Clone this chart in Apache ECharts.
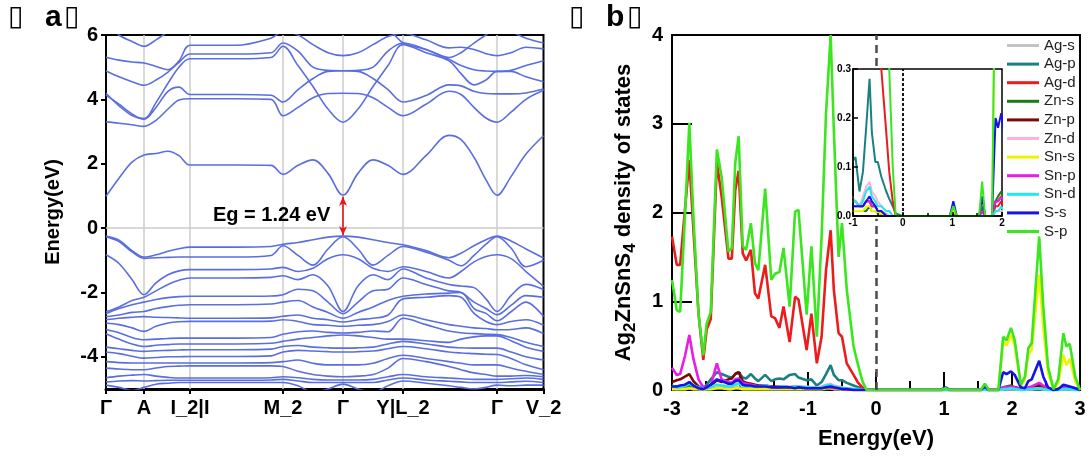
<!DOCTYPE html>
<html>
<head>
<meta charset="utf-8">
<title>Ag2ZnSnS4 band structure and DOS</title>
<script src="https://cdn.jsdelivr.net/npm/echarts@6/dist/echarts.min.js"></script>
<style>
  html, body { margin: 0; padding: 0; background: #fff; }
  #chart { width: 1091px; height: 461px; }
</style>
</head>
<body>
<div id="chart"></div>
<script>
// ---------- panel a : band structure ----------
// k path position (arbitrary length units along the path)
const kGrid = [0, 13, 26, 38, 50, 62, 73, 84, 130, 165, 177, 192, 207, 222, 237, 252, 267, 282, 297, 320, 343, 355, 368, 380, 391, 405, 420, 437.5];
const kSym = [0, 38, 84, 177, 237, 297, 391, 437.5];
const kLabels = ['Γ', 'A', 'I_2|I', 'M_2', 'Γ', 'Y|L_2', 'Γ', 'V_2'];
const eTicks = [-4, -2, 0, 2, 4, 6];

// conduction bands
const cb1 = [0.99, 1.55, 2.05, 2.27, 2.32, 2.39, 2.25, 1.96, 1.96, 1.95, 1.67, 1.95, 2.12, 1.70, 1.02, 1.70, 2.12, 1.95, 1.67, 2.25, 2.88, 2.75, 2.20, 1.50, 1.02, 1.60, 2.30, 2.87];
const cbA = [3.30, 3.26, 3.21, 3.16, 3.35, 3.70, 3.98, 4.02, 4.02, 4.00, 3.49, 3.75, 4.05, 4.18, 4.19, 4.18, 4.05, 3.75, 3.49, 3.85, 4.25, 4.15, 3.75, 3.42, 3.29, 3.60, 4.00, 4.28];
const cbB = [4.13, 3.85, 3.55, 3.38, 3.75, 4.25, 4.38, 4.15, 4.15, 4.13, 3.92, 4.30, 4.65, 4.87, 4.89, 4.87, 4.65, 4.30, 3.92, 4.12, 4.45, 4.42, 4.25, 4.18, 4.17, 4.17, 4.20, 4.32];
const cbC = [4.19, 3.80, 3.50, 3.40, 3.90, 4.50, 5.00, 5.26, 5.26, 5.30, 5.65, 5.05, 4.40, 3.70, 3.29, 3.70, 4.40, 5.05, 5.70, 5.45, 5.20, 4.80, 4.45, 4.60, 4.87, 4.87, 4.70, 4.55];
const cbD = [4.88, 4.70, 4.55, 4.44, 4.60, 4.85, 5.15, 5.41, 5.41, 5.45, 5.75, 5.50, 5.00, 4.90, 4.89, 4.90, 5.00, 5.50, 5.75, 5.55, 5.25, 5.05, 4.92, 4.88, 4.87, 4.90, 5.05, 5.20];
const cbE = [5.31, 5.22, 5.16, 5.13, 5.02, 4.92, 5.20, 5.68, 5.68, 5.90, 6.10, 6.00, 5.70, 5.45, 5.36, 5.45, 5.70, 5.95, 6.05, 5.85, 5.60, 5.62, 5.55, 5.42, 5.36, 5.45, 5.62, 5.57];
const cbF = [6.40, 6.00, 5.80, 5.65, 5.85, 6.10, 6.30, 6.40, 6.40, 6.40, 6.50, 6.60, 6.40, 6.20, 6.10, 6.20, 6.40, 6.20, 5.76, 5.55, 5.30, 5.45, 5.75, 6.00, 6.20, 6.10, 5.90, 5.75];

// valence bands
const vb1 = [-0.25, -0.38, -0.70, -0.90, -0.83, -0.72, -0.64, -0.59, -0.59, -0.57, -0.50, -0.45, -0.36, -0.28, -0.25, -0.28, -0.36, -0.45, -0.52, -0.70, -0.92, -0.78, -0.55, -0.36, -0.25, -0.40, -0.65, -0.93];
const vb2 = [-0.27, -0.42, -0.74, -0.94, -0.92, -0.91, -0.90, -0.90, -0.90, -0.85, -0.55, -0.85, -1.15, -0.65, -0.27, -0.65, -1.15, -0.85, -0.57, -0.75, -1.00, -1.17, -0.85, -0.50, -0.27, -0.62, -1.20, -1.00];
const vb3 = [-0.83, -1.10, -1.60, -2.07, -1.70, -1.45, -1.33, -1.29, -1.29, -1.27, -1.22, -1.35, -1.25, -0.95, -0.83, -0.95, -1.25, -1.35, -1.20, -1.35, -1.55, -1.35, -1.05, -0.88, -0.83, -0.95, -1.35, -1.81];
const vb4 = [-2.60, -2.45, -2.25, -2.15, -1.95, -1.75, -1.62, -1.55, -1.55, -1.53, -1.48, -1.60, -1.45, -1.80, -2.59, -1.80, -1.45, -1.60, -1.27, -1.55, -1.75, -1.80, -1.85, -2.20, -2.59, -2.10, -1.75, -1.91];
const vb5 = [-2.66, -2.50, -2.38, -2.30, -2.22, -2.16, -2.13, -2.12, -2.12, -2.11, -2.07, -1.90, -1.95, -2.30, -2.66, -2.30, -1.95, -1.90, -1.55, -1.75, -1.95, -2.00, -2.30, -2.50, -2.69, -2.40, -2.10, -2.15];
const vb6 = [-2.75, -2.70, -2.62, -2.59, -2.50, -2.44, -2.40, -2.38, -2.38, -2.36, -2.30, -2.25, -2.45, -2.62, -2.80, -2.62, -2.45, -2.25, -2.12, -2.05, -2.02, -2.00, -2.50, -2.65, -2.88, -2.60, -2.30, -2.75];
const vb7 = [-2.85, -2.80, -2.77, -2.75, -2.77, -2.78, -2.79, -2.80, -2.80, -2.79, -2.74, -2.70, -2.80, -2.85, -2.92, -2.85, -2.80, -2.70, -2.20, -2.15, -2.10, -2.15, -2.65, -2.90, -3.00, -2.90, -2.85, -3.02];
const vb8 = [-2.95, -3.00, -3.10, -3.21, -3.05, -2.95, -2.91, -2.90, -2.90, -2.89, -2.85, -2.90, -3.00, -3.02, -3.05, -3.02, -3.00, -2.90, -2.70, -2.85, -3.00, -3.05, -3.10, -3.12, -3.16, -3.15, -3.10, -3.28];
const vb9 = [-3.15, -3.25, -3.40, -3.47, -3.45, -3.43, -3.42, -3.42, -3.42, -3.40, -3.30, -3.22, -3.20, -3.24, -3.26, -3.24, -3.20, -3.22, -2.80, -3.00, -3.20, -3.25, -3.28, -3.30, -3.31, -3.40, -3.55, -3.68];
const vb10 = [-3.28, -3.45, -3.60, -3.68, -3.64, -3.62, -3.60, -3.60, -3.60, -3.58, -3.52, -3.45, -3.40, -3.35, -3.32, -3.35, -3.40, -3.45, -3.45, -3.50, -3.55, -3.45, -3.38, -3.35, -3.35, -3.50, -3.70, -3.83];
const vb11 = [-3.70, -3.75, -3.80, -3.83, -3.81, -3.80, -3.79, -3.78, -3.78, -3.76, -3.68, -3.65, -3.70, -3.72, -3.73, -3.72, -3.70, -3.60, -3.52, -3.60, -3.70, -3.72, -3.73, -3.73, -3.73, -3.85, -4.00, -4.10];
const vb12 = [-3.85, -3.90, -3.98, -4.04, -4.02, -4.00, -4.00, -3.99, -3.99, -3.97, -3.85, -3.80, -3.82, -3.84, -3.85, -3.84, -3.82, -3.75, -3.68, -3.75, -3.85, -3.88, -3.90, -3.92, -3.93, -4.05, -4.25, -4.40];
const vb13 = [-4.15, -4.18, -4.19, -4.19, -4.19, -4.19, -4.19, -4.19, -4.19, -4.18, -4.15, -4.10, -4.20, -4.25, -4.25, -4.25, -4.20, -4.05, -3.95, -4.05, -4.15, -4.20, -4.25, -4.25, -4.25, -4.35, -4.45, -4.55];
const vb14 = [-4.35, -4.38, -4.40, -4.40, -4.35, -4.30, -4.29, -4.28, -4.28, -4.28, -4.30, -4.45, -4.55, -4.60, -4.62, -4.60, -4.55, -4.35, -4.05, -4.15, -4.30, -4.40, -4.50, -4.55, -4.60, -4.60, -4.58, -4.62];
const vb15 = [-4.65, -4.60, -4.57, -4.55, -4.60, -4.64, -4.66, -4.66, -4.66, -4.65, -4.62, -4.65, -4.70, -4.72, -4.72, -4.72, -4.70, -4.62, -4.55, -4.62, -4.66, -4.68, -4.70, -4.70, -4.70, -4.68, -4.66, -4.70];
const vb16 = [-4.78, -4.75, -4.74, -4.75, -4.74, -4.73, -4.73, -4.73, -4.73, -4.72, -4.70, -4.75, -4.80, -4.80, -4.80, -4.80, -4.80, -4.72, -4.66, -4.72, -4.76, -4.78, -4.80, -4.80, -4.80, -4.78, -4.76, -4.80];
const vb17 = [-4.88, -4.95, -5.05, -4.95, -4.85, -4.82, -4.80, -4.80, -4.80, -4.80, -4.80, -4.90, -5.10, -5.00, -4.85, -5.00, -5.10, -4.90, -4.75, -4.82, -4.90, -4.95, -5.00, -4.95, -4.88, -4.90, -4.88, -4.88];

const bands = [cb1, cbA, cbB, cbC, cbD, cbE, cbF,
  vb1, vb2, vb3, vb4, vb5, vb6, vb7, vb8, vb9, vb10, vb11, vb12, vb13, vb14, vb15, vb16, vb17];
const gapText = 'Eg = 1.24 eV';

// ---------- panel b : projected density of states ----------
const eDos = [-3.00, -2.93, -2.88, -2.81, -2.745, -2.685, -2.61, -2.54, -2.49, -2.43,
  -2.34, -2.27, -2.17, -2.12, -2.07, -2.02, -1.96, -1.91, -1.84, -1.78,
  -1.73, -1.63, -1.54, -1.485, -1.42, -1.36, -1.27, -1.19, -1.14, -1.02,
  -0.95, -0.87, -0.80, -0.735, -0.667, -0.62, -0.55, -0.50, -0.43, -0.33,
  -0.27, -0.20, -0.14, 0.00, 0.50, 0.95, 1.02, 1.09, 1.54, 1.60,
  1.66, 1.80, 1.87, 1.92, 1.985, 2.04, 2.13, 2.19, 2.24, 2.29,
  2.40, 2.46, 2.53, 2.61, 2.68, 2.755, 2.80, 2.85, 2.93, 3.00];

const agS = [0.03, 0.02, 0.02, 0.03, 0.04, 0.03, 0.02, 0.01, 0.01, 0.02,
  0.03, 0.03, 0.02, 0.02, 0.03, 0.03, 0.02, 0.02, 0.02, 0.02,
  0.02, 0.02, 0.02, 0.02, 0.02, 0.02, 0.02, 0.02, 0.02, 0.04,
  0.03, 0.02, 0.02, 0.03, 0.03, 0.02, 0.02, 0.01, 0.01, 0.005,
  0, 0, 0, 0, 0, 0, 0, 0, 0, 0,
  0, 0, 0.01, 0.01, 0.01, 0.01, 0, 0, 0.01, 0.01,
  0.01, 0.01, 0, 0, 0, 0.01, 0.01, 0.01, 0, 0];
const agP = [0.04, 0.04, 0.03, 0.04, 0.05, 0.04, 0.03, 0.02, 0.06, 0.12,
  0.20, 0.18, 0.15, 0.14, 0.18, 0.20, 0.14, 0.13, 0.18, 0.13,
  0.10, 0.17, 0.10, 0.12, 0.13, 0.12, 0.17, 0.18, 0.14, 0.11,
  0.12, 0.05, 0.09, 0.18, 0.28, 0.17, 0.11, 0.11, 0.08, 0.05,
  0.035, 0.02, 0.005, 0, 0, 0, 0, 0, 0, 0,
  0, 0, 0.01, 0.01, 0.01, 0.01, 0, 0, 0.01, 0.01,
  0.02, 0.01, 0, 0, 0, 0.01, 0.01, 0.01, 0, 0];
const agD = [1.73, 1.41, 1.41, 2.03, 2.59, 1.80, 0.86, 0.34, 0.68, 0.80,
  2.56, 2.18, 1.48, 1.48, 2.25, 2.47, 1.54, 1.46, 1.58, 1.09,
  1.03, 1.41, 0.83, 0.81, 0.70, 0.94, 0.54, 1.05, 1.02, 0.45,
  0.86, 0.30, 0.60, 1.35, 1.80, 1.13, 0.64, 0.60, 0.30, 0.17,
  0.09, 0.03, 0, 0, 0, 0, 0, 0, 0, 0.01,
  0, 0, 0.02, 0.02, 0.03, 0.02, 0, 0.01, 0.02, 0.03,
  0.07, 0.04, 0.01, 0, 0.01, 0.03, 0.02, 0.02, 0.01, 0];
const znS = [0.01, 0.01, 0.01, 0.01, 0.02, 0.01, 0.01, 0.005, 0.01, 0.01,
  0.02, 0.02, 0.01, 0.01, 0.02, 0.02, 0.01, 0.01, 0.01, 0.01,
  0.01, 0.01, 0.01, 0.01, 0.01, 0.01, 0.01, 0.01, 0.01, 0.01,
  0.01, 0.01, 0.01, 0.01, 0.02, 0.01, 0.01, 0.005, 0.005, 0,
  0, 0, 0, 0, 0, 0, 0.02, 0, 0, 0.02,
  0, 0, 0.03, 0.04, 0.05, 0.03, 0.01, 0.01, 0.02, 0.02,
  0.03, 0.02, 0.01, 0, 0.01, 0.02, 0.02, 0.02, 0.01, 0];
const znP = [0.09, 0.11, 0.12, 0.15, 0.18, 0.10, 0.04, 0.02, 0.03, 0.05,
  0.11, 0.09, 0.12, 0.13, 0.18, 0.20, 0.10, 0.08, 0.07, 0.06,
  0.05, 0.05, 0.04, 0.04, 0.04, 0.04, 0.03, 0.04, 0.03, 0.03,
  0.03, 0.02, 0.02, 0.03, 0.03, 0.02, 0.02, 0.01, 0.01, 0,
  0, 0, 0, 0, 0, 0, 0.005, 0, 0, 0.01,
  0, 0, 0.03, 0.03, 0.04, 0.03, 0.01, 0.01, 0.02, 0.03,
  0.05, 0.03, 0.02, 0, 0.01, 0.03, 0.03, 0.02, 0.01, 0];
const znD = [0.04, 0.03, 0.03, 0.05, 0.08, 0.05, 0.02, 0.01, 0.02, 0.03,
  0.06, 0.05, 0.04, 0.04, 0.06, 0.08, 0.05, 0.04, 0.05, 0.04,
  0.03, 0.04, 0.03, 0.03, 0.03, 0.04, 0.03, 0.04, 0.04, 0.03,
  0.03, 0.02, 0.04, 0.06, 0.07, 0.05, 0.04, 0.03, 0.02, 0.01,
  0.01, 0, 0, 0, 0, 0, 0, 0, 0, 0,
  0, 0, 0.01, 0.01, 0.01, 0.01, 0, 0, 0.01, 0.01,
  0.02, 0.01, 0, 0, 0, 0.01, 0.01, 0.01, 0, 0];
const snS = [0.01, 0.01, 0.01, 0.01, 0.02, 0.01, 0.01, 0.005, 0.01, 0.01,
  0.02, 0.02, 0.01, 0.01, 0.02, 0.02, 0.01, 0.01, 0.01, 0.01,
  0.01, 0.01, 0.01, 0.01, 0.01, 0.01, 0.01, 0.01, 0.01, 0.01,
  0.01, 0.01, 0.01, 0.02, 0.02, 0.01, 0.01, 0.005, 0.005, 0,
  0, 0, 0, 0, 0, 0, 0.01, 0, 0, 0.04,
  0, 0, 0.55, 0.50, 0.62, 0.50, 0.05, 0.12, 0.40, 0.45,
  1.30, 0.70, 0.20, 0, 0.08, 0.40, 0.28, 0.35, 0.10, 0];
const snP = [0.25, 0.17, 0.18, 0.38, 0.62, 0.35, 0.12, 0.03, 0.04, 0.05,
  0.30, 0.12, 0.09, 0.08, 0.12, 0.13, 0.08, 0.07, 0.06, 0.05,
  0.04, 0.05, 0.03, 0.03, 0.03, 0.04, 0.03, 0.03, 0.03, 0.02,
  0.02, 0.02, 0.02, 0.03, 0.03, 0.02, 0.02, 0.01, 0.01, 0,
  0, 0, 0, 0, 0, 0, 0, 0, 0, 0.01,
  0, 0, 0.03, 0.03, 0.04, 0.03, 0.01, 0.01, 0.03, 0.04,
  0.08, 0.05, 0.02, 0, 0.01, 0.04, 0.03, 0.03, 0.02, 0];
const snD = [0.05, 0.03, 0.03, 0.05, 0.07, 0.05, 0.03, 0.02, 0.02, 0.03,
  0.06, 0.05, 0.04, 0.04, 0.06, 0.07, 0.05, 0.04, 0.05, 0.04,
  0.04, 0.05, 0.03, 0.03, 0.04, 0.04, 0.03, 0.04, 0.04, 0.03,
  0.03, 0.02, 0.03, 0.05, 0.06, 0.04, 0.03, 0.02, 0.02, 0.01,
  0.01, 0, 0, 0, 0, 0, 0, 0, 0, 0,
  0, 0, 0.01, 0.01, 0.02, 0.01, 0, 0, 0.01, 0.01,
  0.02, 0.01, 0, 0, 0, 0.01, 0.01, 0.01, 0, 0];
const sS = [0.04, 0.04, 0.05, 0.06, 0.09, 0.05, 0.02, 0.01, 0.03, 0.06,
  0.12, 0.10, 0.07, 0.07, 0.10, 0.11, 0.06, 0.05, 0.05, 0.04,
  0.04, 0.04, 0.03, 0.03, 0.03, 0.03, 0.03, 0.02, 0.03, 0.02,
  0.02, 0.02, 0.02, 0.03, 0.04, 0.03, 0.02, 0.01, 0.01, 0,
  0, 0, 0, 0, 0, 0, 0.03, 0, 0, 0.04,
  0, 0, 0.20, 0.18, 0.21, 0.17, 0.03, 0.02, 0.10, 0.12,
  0.33, 0.15, 0.03, 0, 0.01, 0.06, 0.05, 0.04, 0.02, 0];
const sP = [1.24, 0.90, 0.88, 1.95, 3.01, 1.95, 0.86, 0.39, 0.75, 0.88,
  2.71, 2.40, 1.56, 1.60, 2.56, 2.86, 1.62, 1.58, 1.88, 1.43,
  1.35, 2.27, 1.24, 1.31, 1.33, 1.60, 0.94, 2.01, 2.03, 0.85,
  1.62, 0.60, 1.73, 3.12, 4.00, 2.93, 1.50, 1.88, 1.13, 0.49,
  0.30, 0.10, 0, 0, 0, 0, 0.02, 0, 0, 0.07,
  0, 0, 0.60, 0.56, 0.70, 0.56, 0.06, 0.15, 0.47, 0.53,
  1.73, 0.94, 0.26, 0.01, 0.12, 0.64, 0.49, 0.52, 0.15, 0];

const dosNames = ['Ag-s', 'Ag-p', 'Ag-d', 'Zn-s', 'Zn-p', 'Zn-d', 'Sn-s', 'Sn-p', 'Sn-d', 'S-s', 'S-p'];
const dosValues = [agS, agP, agD, znS, znP, znD, snS, snP, snD, sS, sP];
const dosColors = ['#c3c3c3', '#1a8080', '#ec1c1c', '#167d16', '#7a0a0a', '#ffb0d8', '#f2f200', '#e61ee6', '#22e6f0', '#1414e6', '#3ae61e'];

// ---------- chart ----------
const chart = echarts.init(document.getElementById('chart'));
const FONT = 'Arial, "Liberation Sans", sans-serif';
const bold = { fontFamily: FONT, fontWeight: 'bold', color: '#000' };
const pair = (xs, ys) => xs.map((x, i) => [x, ys[i]]);

const series = [];

// light grey guides at high-symmetry points and at E = 0
series.push({
  type: 'line', xAxisIndex: 0, yAxisIndex: 0, data: [], silent: true, z: 1,
  markLine: {
    silent: true, symbol: 'none', z: 1, animation: false,
    label: { show: false },
    lineStyle: { color: '#cdcdcd', width: 1.5, type: 'solid' },
    data: kSym.slice(1, -1).map(k => ({ xAxis: k })).concat([{ yAxis: 0 }])
  }
});

bands.forEach(b => {
  series.push({
    type: 'line', xAxisIndex: 0, yAxisIndex: 0, data: pair(kGrid, b),
    showSymbol: false, symbol: 'none', smooth: 0.35, silent: true, z: 3,
    lineStyle: { color: '#5a6ee0', width: 1.6 }
  });
});

// band gap arrow at the second Γ point
series.push({
  type: 'line', xAxisIndex: 0, yAxisIndex: 0, data: [], silent: true, z: 6,
  markLine: {
    silent: true, z: 6, animation: false,
    symbol: ['arrow', 'arrow'], symbolSize: [6, 9],
    label: { show: false },
    lineStyle: { color: '#e8141a', width: 1.6, type: 'solid' },
    data: [[{ coord: [kSym[4], cb1[14] - 0.05] }, { coord: [kSym[4], vb1[14] + 0.03] }]]
  }
});

// DOS curves, main panel and inset
dosNames.forEach((name, i) => {
  series.push({
    type: 'line', name, xAxisIndex: 1, yAxisIndex: 1, data: pair(eDos, dosValues[i]),
    showSymbol: false, symbol: 'none', silent: true,
    lineStyle: { color: dosColors[i], width: 2.6 }, itemStyle: { color: dosColors[i] }
  });
  series.push({
    type: 'line', name, xAxisIndex: 2, yAxisIndex: 2, data: pair(eDos, dosValues[i]),
    showSymbol: false, symbol: 'none', silent: true, z: 4,
    lineStyle: { color: dosColors[i], width: 2 }, itemStyle: { color: dosColors[i] }
  });
});

// Fermi level lines
series.push({
  type: 'line', xAxisIndex: 1, yAxisIndex: 1, data: [], silent: true, z: 1,
  markLine: {
    silent: true, symbol: 'none', animation: false, label: { show: false },
    lineStyle: { color: '#4a4a4a', width: 2.5, type: [8, 5] },
    data: [
      [{ coord: [0, 0] }, { coord: [0, 1.93] }],
      [{ coord: [0, 3.65] }, { coord: [0, 4] }]
    ]
  }
});
series.push({
  type: 'line', xAxisIndex: 2, yAxisIndex: 2, data: [], silent: true, z: 5,
  markLine: {
    silent: true, symbol: 'none', animation: false, label: { show: false },
    lineStyle: { color: '#000', width: 1.8, type: [3, 2] },
    data: [{ xAxis: 0 }]
  }
});

const blackLine = w => ({ show: true, onZero: false, lineStyle: { color: '#000', width: w } });

const option = {
  animation: false,
  backgroundColor: '#fff',
  grid: [
    { left: 106, top: 35, width: 437.5, height: 354, show: true, borderColor: '#000', borderWidth: 2 },
    { left: 672, top: 35, width: 408, height: 355, show: true, borderColor: '#000', borderWidth: 2 },
    { left: 853, top: 69, width: 149, height: 147, show: true, borderColor: '#000', borderWidth: 1.5, backgroundColor: '#fff', z: 3 }
  ],
  xAxis: [
    {
      gridIndex: 0, type: 'value', min: 0, max: 437.5,
      axisLine: blackLine(3),
      axisTick: { customValues: kSym, length: 5, lineStyle: { color: '#000', width: 2 } },
      axisLabel: { customValues: kSym, formatter: v => kLabels[kSym.indexOf(v)], ...bold, fontSize: 20, margin: 9 },
      splitLine: { show: false }
    },
    {
      gridIndex: 1, type: 'value', min: -3, max: 3, interval: 1,
      name: 'Energy(eV)', nameLocation: 'middle', nameGap: 38,
      nameTextStyle: { ...bold, fontSize: 22 },
      axisLine: blackLine(2),
      axisTick: { inside: true, length: 18, lineStyle: { color: '#000', width: 2 } },
      minorTick: { show: true, splitNumber: 2, length: 9, lineStyle: { color: '#000', width: 2 } },
      axisLabel: { ...bold, fontSize: 20, margin: 9 },
      splitLine: { show: false }
    },
    {
      gridIndex: 2, type: 'value', min: -1, max: 2, interval: 1, z: 5,
      axisLine: blackLine(1.5),
      axisTick: { inside: true, length: 4, lineStyle: { color: '#000', width: 1.5 } },
      minorTick: { show: true, splitNumber: 2, length: 3, lineStyle: { color: '#000', width: 1.5 } },
      axisLabel: { ...bold, fontSize: 10, margin: 2 },
      splitLine: { show: false }
    }
  ],
  yAxis: [
    {
      gridIndex: 0, type: 'value', min: -5, max: 6,
      name: 'Energy(eV)', nameLocation: 'middle', nameGap: 43, nameRotate: 90,
      nameTextStyle: { ...bold, fontSize: 20 },
      axisLine: blackLine(2),
      axisTick: { customValues: eTicks, length: 5, lineStyle: { color: '#000', width: 2 } },
      axisLabel: { customValues: eTicks, ...bold, fontSize: 20, margin: 8 },
      splitLine: { show: false }
    },
    {
      gridIndex: 1, type: 'value', min: 0, max: 4, interval: 1,
      name: '{m|Ag}{s|2}{m|ZnSnS}{s|4}{m| density of states}',
      nameLocation: 'middle', nameGap: 33, nameRotate: 90,
      nameTextStyle: {
        ...bold, fontSize: 22,
        rich: {
          m: { fontFamily: FONT, fontWeight: 'bold', fontSize: 22, lineHeight: 30, color: '#000' },
          s: { fontFamily: FONT, fontWeight: 'bold', fontSize: 17, lineHeight: 14, verticalAlign: 'bottom', color: '#000' }
        }
      },
      axisLine: blackLine(2),
      axisTick: { inside: true, length: 20, lineStyle: { color: '#000', width: 2 } },
      axisLabel: { ...bold, fontSize: 20, margin: 9 },
      splitLine: { show: false }
    },
    {
      gridIndex: 2, type: 'value', min: 0, max: 0.3, interval: 0.1, z: 5,
      axisLine: blackLine(1.5),
      axisTick: { inside: true, length: 5, lineStyle: { color: '#000', width: 1.5 } },
      axisLabel: { ...bold, fontSize: 10, margin: 2, formatter: v => v.toFixed(1) },
      splitLine: { show: false }
    }
  ],
  legend: {
    data: dosNames, orient: 'vertical', left: 1007, top: 38, padding: 0,
    icon: 'rect', itemWidth: 32, itemHeight: 3, itemGap: 3.6,
    selectedMode: false,
    textStyle: { fontFamily: FONT, fontSize: 15, lineHeight: 15, color: '#222' }
  },
  graphic: [
    { type: 'text', left: 8, top: 4, style: { text: '▯', font: '28px "DejaVu Sans"', fill: '#000' } },
    { type: 'text', left: 45, top: 3, style: { text: 'a', font: 'bold 30px Arial', fill: '#000' } },
    { type: 'text', left: 64, top: 4, style: { text: '▯', font: '28px "DejaVu Sans"', fill: '#000' } },
    { type: 'text', left: 569, top: 4, style: { text: '▯', font: '28px "DejaVu Sans"', fill: '#000' } },
    { type: 'text', left: 606, top: 3, style: { text: 'b', font: 'bold 30px Arial', fill: '#000' } },
    { type: 'text', left: 627, top: 4, style: { text: '▯', font: '28px "DejaVu Sans"', fill: '#000' } },
    { type: 'text', left: 213, top: 205, z: 10, style: { text: gapText, font: 'bold 20px Arial', fill: '#000' } }
  ],
  series
};

chart.setOption(option);
</script>
</body>
</html>
